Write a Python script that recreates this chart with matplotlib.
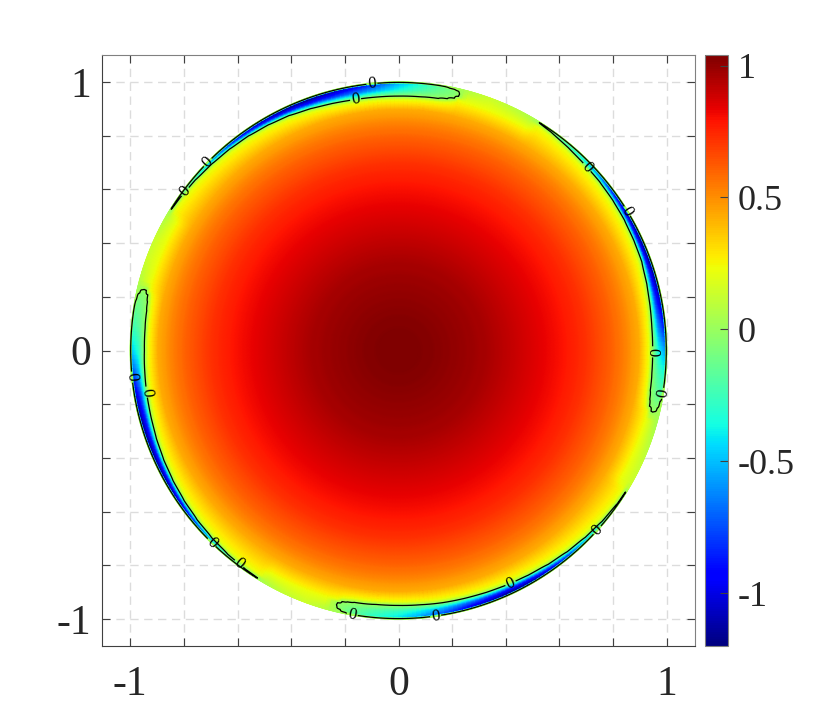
import numpy as np
import matplotlib
matplotlib.use('Agg')
import matplotlib.pyplot as plt

plt.rcParams['font.family'] = ['Liberation Serif', 'DejaVu Serif']

# --- values ---
# centre to rim profile of the field
prof_r = [0.0, 0.1, 0.2, 0.3, 0.4, 0.5, 0.6, 0.7, 0.8, 0.85, 0.9]
prof_z = [1.04, 1.03, 1.0, 0.97, 0.92, 0.86, 0.80, 0.72, 0.6, 0.52, 0.42]

# per direction: angle, inner zero line, outer zero line, value near the rim
# nan radius = no zero line in that direction, only a weak positive rim
theta_deg = [-30, -25, -20, -15.5,
             -13.5, -12.5, -11, -9, -5, 0, 5, 10, 15, 20, 25, 30, 35, 40, 45, 50, 55, 58,
             60, 65, 70, 75,
             76.7, 77.5, 79, 81, 85, 90, 95, 100, 105, 110, 115, 120, 125, 130, 135, 140, 145, 148,
             150, 155, 160, 165,
             166.6, 167.5, 169, 171, 175, 180, 185, 190, 195, 200, 205, 210, 215, 220, 225, 230, 235, 238,
             240, 245, 250, 254,
             256.4, 257.3, 258.5, 260, 265, 270, 275, 280, 285, 290, 295, 300, 305, 310, 315, 320, 325, 328]
inner_r = [np.nan, np.nan, np.nan, np.nan,
           .968, .958, .954, .950, .948, .947, .948, .952, .958, .965, .968, .972, .975, .978, .980, .985, .992, .996,
           np.nan, np.nan, np.nan, np.nan,
           .972, .962, .955, .950, .948, .947, .947, .948, .952, .958, .965, .970, .975, .979, .983, .988, .993, .996,
           np.nan, np.nan, np.nan, np.nan,
           .966, .957, .953, .950, .948, .947, .949, .952, .955, .960, .965, .970, .975, .980, .985, .990, .994, .996,
           np.nan, np.nan, np.nan, np.nan,
           .966, .958, .955, .952, .949, .949, .950, .953, .955, .958, .962, .966, .972, .978, .984, .990, .995, .996]
outer_r = [np.nan, np.nan, np.nan, np.nan,
           .978, .988, .993, .998, .998, .998, .998, .998, .998, .998, .998, .998, .998, .998, .998, .998, .998, .998,
           np.nan, np.nan, np.nan, np.nan,
           .985, .992, .995, .998, .998, .998, .998, .998, .998, .998, .998, .998, .998, .998, .998, .998, .998, .998,
           np.nan, np.nan, np.nan, np.nan,
           .978, .988, .995, .998, .998, .998, .998, .998, .998, .998, .998, .998, .998, .998, .998, .998, .998, .998,
           np.nan, np.nan, np.nan, np.nan,
           .978, .988, .995, .998, .998, .998, .998, .998, .998, .998, .998, .998, .998, .998, .998, .998, .998, .998]
rim_z = [.14, .12, .08, .04,
         -.01, -.05, -.12, -.2, -.32, -.55, -.85, -1.05, -1.15, -1.18, -1.18, -1.1, -.95, -.7, -.45, -.3, -.15, -.04,
         .06, .1, .14, .07,
         -.01, -.05, -.1, -.15, -.3, -.5, -.75, -.95, -1.1, -1.18, -1.18, -1.1, -1.0, -.8, -.55, -.3, -.12, -.03,
         .07, .13, .14, .08,
         -.01, -.05, -.1, -.15, -.25, -.45, -.75, -1.05, -1.15, -1.18, -1.18, -1.15, -1.05, -.85, -.55, -.3, -.12, -.03,
         .06, .12, .14, .09,
         -.01, -.05, -.1, -.15, -.3, -.4, -.55, -.75, -.95, -1.1, -1.18, -1.15, -1.0, -.8, -.5, -.3, -.1, -.03]

# where the "0" labels sit
label_x = [-.10, -.16, -.715, -.796, .70, .853, .949, .988, -1.0, -.94, -.70, -.595, -.173, .139, .418, .741]
label_y = [1.0, .935, .704, .592, .68, .519, -.005, -.16, -.10, -.155, -.719, -.795, -.987, -.993, -.868, -.669]

ticks_major = [-1, 0, 1]
ticks_grid = [-1, -.8, -.6, -.4, -.2, 0, .2, .4, .6, .8, 1]
cbar_ticks = [-1, -0.5, 0, 0.5, 1]
cbar_labels = ['-1', '-0.5', '0', '0.5', '1']


def direction_row(r, inner, outer, rim):
    # one radial line of the field
    if np.isnan(inner):
        rk = prof_r + [0.96, 1.0]
        zk = prof_z + [0.22, rim]
    else:
        rk = prof_r + [inner - 0.012, inner, (inner + outer) / 2, outer - 0.004, outer, 1.0001]
        zk = prof_z + [0.22, 0.0, 0.7 * rim, rim, 0.0, 0.03]
    return np.interp(r, rk, zk)


r = np.concatenate([np.linspace(0, 0.9, 60, endpoint=False), np.linspace(0.9, 1.0, 101)])
theta = np.array(theta_deg + [theta_deg[0] + 360], dtype=float)
rows = [direction_row(r, a, b, c) for a, b, c in zip(inner_r, outer_r, rim_z)]
rows.append(rows[0])
Z = np.array(rows)

# finer angle steps so the colours blend in value and not in rgb
theta_fine = np.union1d(theta, np.arange(theta[0], theta[-1], 1.0))
Z_fine = np.array([np.interp(theta_fine, theta, Z[:, j]) for j in range(len(r))]).T
X = np.outer(np.cos(np.radians(theta_fine)), r)
Y = np.outer(np.sin(np.radians(theta_fine)), r)

fig = plt.figure(figsize=(8.31, 7.27), dpi=100)
ax = fig.add_axes([102 / 831, 1 - 646 / 727, 593 / 831, 591 / 727])
cax = fig.add_axes([705 / 831, 1 - 646 / 727, 23 / 831, 591 / 727])

ax.set_axisbelow(True)
ax.grid(True, color='#dcdcdc', linestyle=(0, (6, 4)), linewidth=1)
mesh = ax.pcolormesh(X, Y, Z_fine, cmap='jet', vmin=-1.2, vmax=1.04, shading='gouraud')
cs = ax.contour(X, Y, Z_fine, levels=[0], colors='black', linewidths=0.9)
ax.clabel(cs, fmt='%d', fontsize=12, inline=True, inline_spacing=2, manual=list(zip(label_x, label_y)))

ax.set_xlim(-1.105, 1.105)
ax.set_ylim(-1.1, 1.1)
ax.set_xticks(ticks_grid)
ax.set_yticks(ticks_grid)
ax.set_xticklabels([str(t) if t in ticks_major else '' for t in ticks_grid])
ax.set_yticklabels([str(t) if t in ticks_major else '' for t in ticks_grid])
ax.tick_params(direction='in', length=6, width=0.8, color='#404040', top=True, right=True,
               labelsize=30, labelcolor='#262626')
ax.tick_params(axis='x', pad=14)
ax.tick_params(axis='y', pad=8)
for side in ['top', 'right']:
    ax.spines[side].set_color('#808080')
for side in ['left', 'bottom']:
    ax.spines[side].set_color('#404040')

cb = fig.colorbar(mesh, cax=cax)
cb.set_ticks(cbar_ticks)
cb.set_ticklabels(cbar_labels)
cb.ax.tick_params(direction='in', length=6, width=0.8, color='#404040', labelsize=26,
                  labelcolor='#262626', pad=7)
cb.outline.set_edgecolor('#808080')

fig.savefig('out.png', dpi=100)
